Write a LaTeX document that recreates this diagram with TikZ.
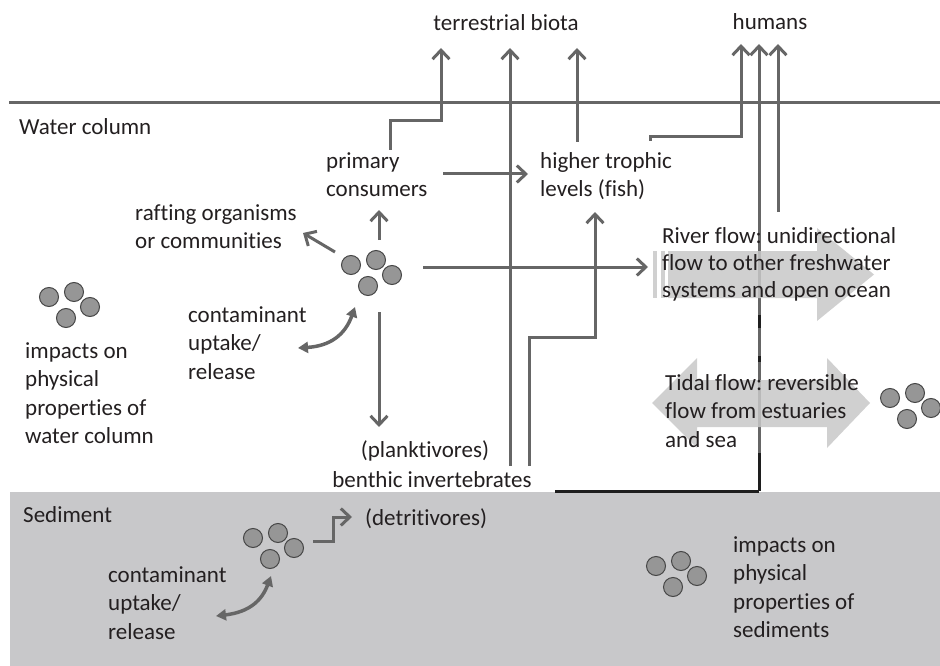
\documentclass[tikz,border=0pt]{standalone}
\usepackage{fontspec}
\setmainfont{Carlito}[Ligatures=NoCommon]
\usetikzlibrary{arrows.meta}
\definecolor{lg}{RGB}{102,102,102}
\definecolor{txt}{RGB}{35,31,32}
\definecolor{sed}{RGB}{200,200,202}
\definecolor{flow}{RGB}{200,200,200}
\definecolor{blobf}{RGB}{150,150,150}
\definecolor{blobd}{RGB}{70,70,70}
\definecolor{blk}{RGB}{30,30,30}
\newcommand\ml[1]{\vtop{\halign{##\hfil\cr#1\crcr}}}
\frenchspacing
\begin{document}
\begin{tikzpicture}[x=1pt,y=-1pt,
 lbl/.style={anchor=base west,inner sep=0pt,text=txt,font=\fontsize{23}{28.5}\selectfont},
 ctr/.style={lbl,anchor=base},
 conn/.style={draw=lg,line width=3pt},
 arr/.style={conn,-{Straight Barb[length=9pt,width=17pt]}},
 cur/.style={draw=lg,line width=3.5pt,{Triangle[length=10pt,width=11pt]}-{Triangle[length=10pt,width=11pt]}},
 blob/.style={fill=blobf,draw=blobd,line width=1pt},
 flowarrow/.style={fill=flow,fill opacity=0.85}]
\useasboundingbox (0,0) rectangle (940,666);
% layers
\fill[sed] (10,492) rectangle (940,666);
\draw[conn] (9,103) -- (940,103);
% named end points
\coordinate (tb1) at (441,48);
\coordinate (tb2) at (510,48);
\coordinate (tb3) at (577,48);
\coordinate (hu1) at (741,44);
\coordinate (hu2) at (759,44);
\coordinate (hu3) at (778,44);
\coordinate (pcS) at (390,150);
\coordinate (biS) at (510,466);
\coordinate (biS2) at (529,466);
\coordinate (htS) at (577,142);
\coordinate (htS2) at (650,141);
\coordinate (rvS) at (778,212);
\coordinate (blkS) at (555,491);
\coordinate (blkC) at (759,491);
\coordinate (pcE) at (443,174);
\coordinate (htE) at (528,174);
\coordinate (htE2) at (595,212);
% clusters
\foreach \n/\cx/\cy in {cw/351/265, cl/49/297, cs/253/538, cr/656/566, ct/890/398}{
  \coordinate (\n) at (\cx,\cy);
  \foreach \dx/\dy in {0/0,25/-5,41/10,17/21}
    \draw[blob] ([shift={(\dx,\dy)}]\n) circle[radius=9.5pt];
}
% connectors to terrestrial biota
\draw[arr] (pcS) -- (390,121) -- (441,121) -- (tb1);
\draw[arr] (biS) -- (tb2);
\draw[arr] (htS) -- (tb3);
% connectors to humans
\draw[arr] (htS2) -- (650,137) -- (741,137) -- (hu1);
\draw[arr] (blkC) -- (hu2);
\draw[arr] (rvS) -- (hu3);
\draw[blk,line width=3pt] (blkS) -- (blkC);
\draw[blk,line width=3pt] (blkC) -- (759,453);
\draw[blk,line width=3pt] (759,315) -- (759,328);
\draw[blk,line width=3pt] (759,356) -- (759,362);
% food web
\draw[arr] (pcE) -- (htE);
\draw[arr] ([shift={(28,-25)}]cw) -- ([shift={(28,-55)}]cw);
\draw[arr] ([shift={(-16,-13)}]cw) -- ([shift={(-48,-32)}]cw);
\draw[arr] ([shift={(72,2)}]cw) -- ([shift={(297,2)}]cw);
\draw[arr] ([shift={(28,47)}]cw) -- ([shift={(28,162)}]cw);
\draw[arr] (biS2) -- (529,337) -- (595,337) -- (htE2);
\draw[cur] (298,348) .. controls (330,346) and (345,335) .. ([shift={(4,42)}]cw);
\draw[arr] ([shift={(60,3)}]cs) -- (333,541) -- (333,517) -- (352,517);
\draw[cur] (216,616) .. controls (250,612) and (262,600) .. ([shift={(18,38)}]cs);
% flow arrows
\fill[flowarrow] (653,251) rectangle (657,298);
\fill[flowarrow] (661,251) rectangle (665,298);
\fill[flowarrow] (668,251) -- (817,251) -- (817,228) -- (874,274.5) -- (817,321) -- (817,298) -- (668,298) -- cycle;
\fill[flowarrow] (652,403) -- (697,358) -- (697,380) -- (827,380) -- (827,358) -- (870,403) -- (827,448) -- (827,427) -- (697,427) -- (697,448) -- cycle;
% labels
\node[ctr] (terr) at (506,31) {terrestrial biota};
\node[ctr] (hum) at (770,30) {humans};
\node[lbl] (wc) at (19,135) {Water column};
\node[lbl] (prim) at (326,168) {\ml{primary\cr consumers}};
\node[lbl] (high) at (540,168) {\ml{higher trophic\cr levels (fish)}};
\node[lbl] (raft) at (135,220) {\ml{rafting organisms\cr or communities}};
\node[lbl] (impw) at (25,358) {\ml{impacts on\cr physical\cr properties of\cr water column}};
\node[lbl] (contw) at (188,322) {\ml{contaminant\cr uptake/\cr release}};
\node[ctr] (plank) at (425,457) {(planktivores)};
\node[ctr] (benth) at (432,487) {benthic invertebrates};
\node[lbl] (sedl) at (23,522) {Sediment};
\node[lbl] (detr) at (365,525) {(detritivores)};
\node[lbl] (conts) at (108,582) {\ml{contaminant\cr uptake/\cr release}};
\node[lbl] (imps) at (733,552) {\ml{impacts on\cr physical\cr properties of\cr sediments}};
\node[lbl,font=\fontsize{23}{27}\selectfont] (river) at (662,243) {\ml{River flow: unidirectional\cr flow to other freshwater\cr systems and open ocean}};
\node[lbl] (tidal) at (665,390) {\ml{Tidal flow: reversible\cr flow from estuaries\cr and sea}};
\end{tikzpicture}
\end{document}
